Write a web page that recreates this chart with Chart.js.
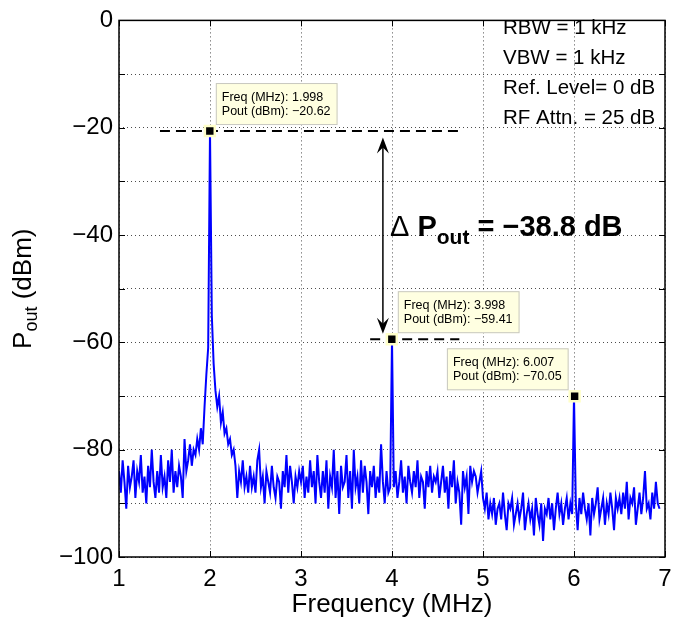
<!DOCTYPE html>
<html>
<head>
<meta charset="utf-8">
<script src="https://cdn.jsdelivr.net/npm/chart.js@4.4.0/dist/chart.umd.min.js"></script>
<style>
  html, body { margin: 0; padding: 0; background: #fff; }
  #wrap { width: 683px; height: 625px; }
</style>
</head>
<body>
<div id="wrap"><canvas id="chartSpectre" width="683" height="625"></canvas></div>
<script>
const FONT = '"Liberation Sans", Arial, Helvetica, sans-serif';
const MINUS = '\u2212';

// Grille de fréquence de l'analyseur (MHz)
const freqStep = 0.02;
const bandStarts = [1.0, 1.5, 2.0, 2.5, 3.0, 3.5, 4.0, 4.5, 5.0, 5.5, 6.0, 6.5];

// Niveaux (dBm), une liste par demi-MHz
const band1_0 = [-84, -88, -82, -86, -91, -83, -87, -85, -82, -89, -84, -86, -81, -88, -85, -90, -83, -87, -80, -86, -89, -84, -88, -81, -87];
const band1_5 = [-85, -89, -82, -86, -80, -88, -84, -87, -83, -85, -89, -78, -84, -82, -79, -83, -80, -81, -78, -80, -76, -79, -72, -66, -61];
const band2_0 = [-20.62, -55, -64, -69, -72, -70, -75, -73, -77, -76, -79, -78, -81, -80, -83, -89, -84, -86, -82, -87, -85, -88, -83, -87, -85];
const band2_5 = [-88, -82, -80, -87, -85, -90, -84, -86, -88, -83, -87, -89, -85, -86, -91, -84, -87, -81, -88, -83, -86, -90, -85, -87, -84];
const band3_0 = [-86, -83, -89, -85, -88, -82, -87, -84, -90, -81, -86, -89, -84, -88, -82, -91, -85, -87, -80, -89, -84, -92, -83, -87, -86];
const band3_5 = [-81, -89, -84, -91, -80, -87, -85, -90, -82, -88, -83, -86, -92, -84, -87, -83, -89, -85, -88, -79, -86, -90, -84, -88, -87];
const band4_0 = [-59.41, -87, -84, -89, -86, -82, -88, -85, -90, -83, -86, -88, -84, -87, -82, -89, -85, -86, -91, -84, -87, -83, -88, -85, -86];
const band4_5 = [-84, -89, -86, -83, -88, -85, -91, -84, -87, -82, -90, -86, -88, -94, -84, -87, -85, -92, -83, -86, -84, -85, -88, -86, -84];
const band5_0 = [-89, -91, -88, -93, -90, -92, -89, -94, -91, -90, -93, -88, -92, -95, -90, -91, -89, -94, -92, -90, -93, -91, -88, -95, -92];
const band5_5 = [-90, -93, -91, -96, -89, -92, -94, -90, -97, -91, -92, -89, -93, -90, -95, -91, -88, -92, -90, -94, -91, -89, -93, -90, -92];
const band6_0 = [-70.05, -90, -95, -89, -92, -88, -91, -93, -90, -96, -89, -92, -90, -87, -93, -91, -89, -94, -90, -92, -88, -91, -95, -89, -91];
const band6_5 = [-89, -92, -88, -91, -86, -93, -89, -90, -87, -94, -91, -88, -92, -89, -84, -91, -90, -93, -88, -91, -86, -90, -91];
const bands = [band1_0, band1_5, band2_0, band2_5, band3_0, band3_5, band4_0, band4_5, band5_0, band5_5, band6_0, band6_5];

// Marqueurs (data tips)
const markerFreq = [1.998, 3.998, 6.007];
const markerPout = [-20.62, -59.41, -70.05];

// Lignes de référence pointillées et flèche
const refLine1Freq = [1.45, 4.75];
const refLine2Freq = [3.76, 4.74];
const arrowFreq = 3.9;
const arrowTop = -21.8;
const arrowBottom = -58.4;

// Axes et textes
const xTickValues = [1, 2, 3, 4, 5, 6, 7];
const yLabelStep = 20;
const infoLines = ['RBW = 1 kHz', 'VBW = 1 kHz', 'Ref. Level= 0 dB', 'RF Attn. = 25 dB'];

function fmtNum(v, d) {
    const s = Math.abs(v).toFixed(d);
    return v < 0 ? MINUS + s : s;
}

// Construction de la trace à partir des bandes
const tracePoints = [];
bands.forEach((band, b) => {
    band.forEach((p, i) => {
        tracePoints.push({ x: +(bandStarts[b] + i * freqStep).toFixed(3), y: p });
    });
});

const markerPoints = markerFreq.map((f, i) => ({ x: f, y: markerPout[i] }));

const annotations = {
    id: 'annotations',
    afterDatasetsDraw(chart) {
        const ctx = chart.ctx;
        const xs = chart.scales.x, ys = chart.scales.y;

        // flèche double
        const ax = xs.getPixelForValue(arrowFreq);
        const y1 = ys.getPixelForValue(arrowTop);
        const y2 = ys.getPixelForValue(arrowBottom);
        ctx.save();
        ctx.strokeStyle = '#000';
        ctx.fillStyle = '#000';
        ctx.lineWidth = 1.5;
        ctx.beginPath();
        ctx.moveTo(ax, y1 + 6);
        ctx.lineTo(ax, y2 - 6);
        ctx.stroke();
        const head = (tipY, s) => {
            ctx.beginPath();
            ctx.moveTo(ax, tipY);
            ctx.lineTo(ax - 6, tipY + s * 16);
            ctx.lineTo(ax, tipY + s * 10);
            ctx.lineTo(ax + 6, tipY + s * 16);
            ctx.closePath();
            ctx.fill();
        };
        head(y1, 1);
        head(y2, -1);
        ctx.restore();

        // data tips
        ctx.save();
        ctx.font = '12.5px ' + FONT;
        markerPoints.forEach((m, i) => {
            const mx = xs.getPixelForValue(m.x);
            const my = ys.getPixelForValue(m.y);
            const l1 = 'Freq (MHz): ' + m.x.toFixed(3);
            const l2 = 'Pout (dBm): ' + fmtNum(m.y, 2);
            const w = Math.max(ctx.measureText(l1).width, ctx.measureText(l2).width) + 13;
            const h = 42;
            const left = i === 2 ? mx - 6 - w : mx + 6;
            const top = my - 6 - h;
            ctx.fillStyle = '#ffffe1';
            ctx.fillRect(left, top, w, h);
            ctx.strokeStyle = '#c8c8c0';
            ctx.lineWidth = 1;
            ctx.strokeRect(left + 0.5, top + 0.5, w - 1, h - 1);
            ctx.fillStyle = '#000';
            ctx.textBaseline = 'middle';
            ctx.textAlign = 'left';
            ctx.fillText(l1, left + 6, top + 14);
            ctx.fillText(l2, left + 6, top + 28);
        });
        ctx.restore();

        // Delta P
        ctx.save();
        ctx.fillStyle = '#000';
        ctx.textBaseline = 'alphabetic';
        let tx = 390;
        const base = 236;
        ctx.font = '29px ' + FONT;
        ctx.fillText('\u0394', tx, base);
        tx += ctx.measureText('\u0394 ').width;
        ctx.font = 'bold 29px ' + FONT;
        ctx.fillText('P', tx, base);
        tx += ctx.measureText('P').width;
        ctx.font = 'bold 21px ' + FONT;
        ctx.fillText('out', tx, base + 8);
        tx += ctx.measureText('out').width;
        ctx.font = 'bold 29px ' + FONT;
        const dp = markerPout[1] - markerPout[0];
        ctx.fillText(' = ' + fmtNum(dp, 1) + ' dB', tx, base);
        ctx.restore();

        // textes d'information
        ctx.save();
        ctx.fillStyle = '#000';
        ctx.font = '20.5px ' + FONT;
        ctx.textBaseline = 'middle';
        infoLines.forEach((t, i) => ctx.fillText(t, 503, 28 + i * 30));
        ctx.restore();
    },
    afterDraw(chart) {
        const ctx = chart.ctx;
        const a = chart.chartArea;
        const xs = chart.scales.x, ys = chart.scales.y;
        ctx.save();
        ctx.strokeStyle = '#000';
        ctx.lineWidth = 1.5;
        ctx.strokeRect(a.left, a.top, a.right - a.left, a.bottom - a.top);
        // graduations intérieures
        ctx.lineWidth = 1;
        ctx.beginPath();
        xTickValues.forEach(v => {
            const px = Math.round(xs.getPixelForValue(v)) + 0.5;
            ctx.moveTo(px, a.bottom); ctx.lineTo(px, a.bottom - 6);
            ctx.moveTo(px, a.top); ctx.lineTo(px, a.top + 6);
        });
        for (let v = -100; v <= 0; v += 10) {
            const py = Math.round(ys.getPixelForValue(v)) + 0.5;
            ctx.moveTo(a.left, py); ctx.lineTo(a.left + 6, py);
            ctx.moveTo(a.right, py); ctx.lineTo(a.right - 6, py);
        }
        ctx.stroke();

        // titres des axes
        ctx.fillStyle = '#000';
        ctx.font = '26px ' + FONT;
        ctx.textAlign = 'center';
        ctx.textBaseline = 'middle';
        ctx.fillText('Frequency (MHz)', (a.left + a.right) / 2, 605);

        ctx.translate(22, (a.top + a.bottom) / 2);
        ctx.rotate(-Math.PI / 2);
        ctx.textAlign = 'left';
        ctx.textBaseline = 'alphabetic';
        ctx.font = '26px ' + FONT;
        const wP = ctx.measureText('P').width;
        const wRest = ctx.measureText(' (dBm)').width;
        ctx.font = '18px ' + FONT;
        const wSub = ctx.measureText('out').width;
        let t = -(wP + wSub + wRest) / 2;
        ctx.font = '26px ' + FONT;
        ctx.fillText('P', t, 9);
        t += wP;
        ctx.font = '18px ' + FONT;
        ctx.fillText('out', t, 15);
        t += wSub;
        ctx.font = '26px ' + FONT;
        ctx.fillText(' (dBm)', t, 9);
        ctx.restore();
    }
};

const canvas = document.getElementById('chartSpectre');
const gridOpts = { color: 'rgba(0,0,0,0.7)', lineWidth: 1, drawTicks: false };
const borderOpts = { display: false, dash: [1, 3] };

new Chart(canvas, {
    type: 'line',
    data: {
        datasets: [
            {
                label: 'Marqueurs',
                data: markerPoints,
                showLine: false,
                pointStyle: 'rect',
                pointRadius: 7,
                pointBackgroundColor: '#000',
                pointBorderColor: '#ffffc8',
                pointBorderWidth: 2.5
            },
            {
                label: 'Ref 1',
                data: refLine1Freq.map(f => ({ x: f, y: markerPout[0] })),
                borderColor: '#000',
                borderWidth: 2,
                borderDash: [10, 6],
                pointRadius: 0
            },
            {
                label: 'Ref 2',
                data: refLine2Freq.map(f => ({ x: f, y: markerPout[1] })),
                borderColor: '#000',
                borderWidth: 2,
                borderDash: [10, 6],
                pointRadius: 0
            },
            {
                label: 'Pout',
                data: tracePoints,
                borderColor: '#0000ff',
                borderWidth: 2,
                pointRadius: 0,
                tension: 0
            }
        ]
    },
    options: {
        responsive: false,
        animation: false,
        devicePixelRatio: 1,
        layout: { padding: { top: 17, right: 18, left: 0, bottom: 0 } },
        plugins: {
            legend: { display: false },
            tooltip: { enabled: false }
        },
        scales: {
            x: {
                type: 'linear',
                min: 1,
                max: 7,
                grid: gridOpts,
                border: borderOpts,
                afterFit: s => { s.height = 68; },
                afterBuildTicks: s => { s.ticks = xTickValues.map(v => ({ value: v })); },
                ticks: {
                    color: '#000',
                    font: { family: FONT, size: 24 },
                    padding: 8,
                    maxRotation: 0,
                    callback: v => String(v)
                }
            },
            y: {
                type: 'linear',
                min: -100,
                max: 0,
                grid: gridOpts,
                border: borderOpts,
                afterFit: s => { s.width = 119; },
                ticks: {
                    stepSize: 10,
                    color: '#000',
                    font: { family: FONT, size: 24 },
                    padding: 6,
                    callback: v => (v % yLabelStep === 0 ? fmtNum(v, 0) : '')
                }
            }
        }
    },
    plugins: [annotations]
});
</script>
</body>
</html>
